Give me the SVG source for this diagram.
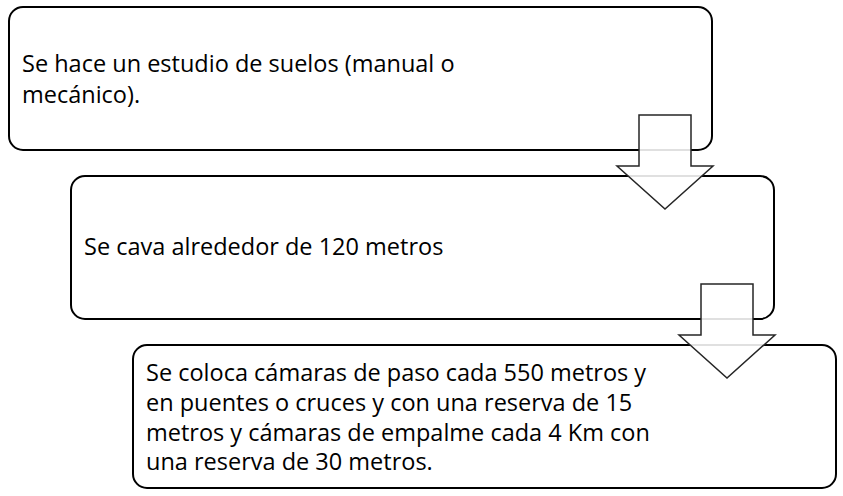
<svg xmlns="http://www.w3.org/2000/svg" width="843" height="496" viewBox="0 0 843 496">
<style>
.box{fill:#fff;stroke:#000;stroke-width:2}
.arr{fill:#fff;fill-opacity:0.88;stroke:#262626;stroke-width:1.5;stroke-linejoin:miter}
text{font-family:"Open Sans","Liberation Sans",Arial,sans-serif;font-size:23.5px;fill:#000}
</style>
<rect width="843" height="496" fill="#fff"/>
<g id="node1"><rect class="box" x="9" y="7" width="703" height="143" rx="14"/>
<text x="22" y="72">Se hace un estudio de suelos (manual o</text>
<text x="22" y="103">mecánico).</text></g>
<g id="node2"><rect class="box" x="71" y="176" width="703" height="143" rx="14"/>
<text x="84" y="255">Se cava alrededor de 120 metros</text></g>
<g id="node3"><rect class="box" x="133" y="345" width="703" height="143" rx="14"/>
<text x="146" y="381">Se coloca cámaras de paso cada 550 metros y</text>
<text x="146" y="411">en puentes o cruces y con una reserva de 15</text>
<text x="146" y="441">metros y cámaras de empalme cada 4 Km con</text>
<text x="146" y="470">una reserva de 30 metros.</text></g>
<g id="connectors">
<polygon class="arr" points="639,115 691,115 691,166 713,166 665,209 617,166 639,166"/>
<polygon class="arr" points="701,284 753,284 753,335 775,335 727,378 679,335 701,335"/>
</g>
</svg>
